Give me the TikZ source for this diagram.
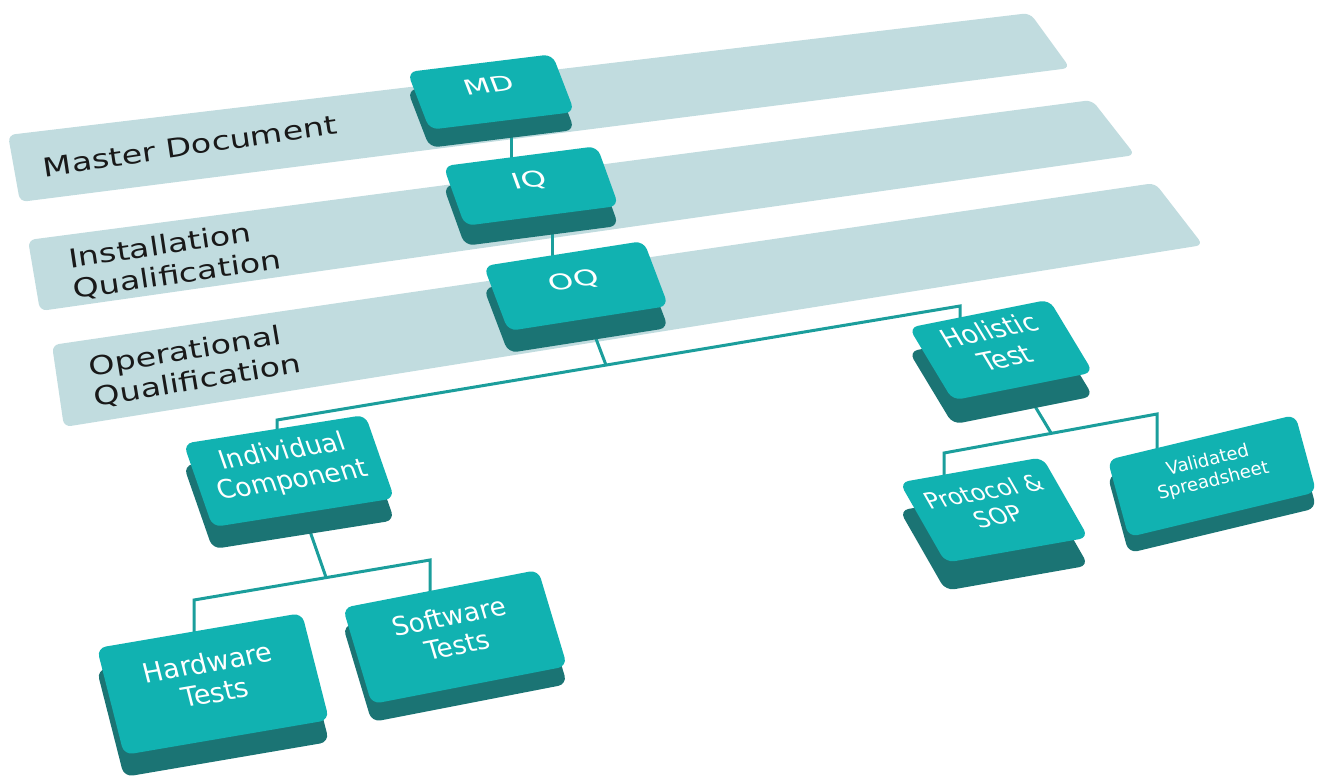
\documentclass[tikz,border=0pt]{standalone}
\usepackage{fontspec}
\setmainfont{DejaVu Sans}
\newfontfamily\bandfont[FakeStretch=1.28]{DejaVu Sans}
\newfontfamily\widefont[FakeStretch=1.45]{DejaVu Sans}
\usetikzlibrary{calc}
\usetikzlibrary{shadows}
\definecolor{cBand}{HTML}{C1DCDF}
\definecolor{cTeal}{HTML}{11B2B1}
\definecolor{cTealDark}{HTML}{1B7474}
\definecolor{cLink}{HTML}{1B9E9C}
\pgfdeclarelayer{bands}
\pgfdeclarelayer{links}
\pgfsetlayers{bands,links,main}
\tikzset{
	tbox/.style={fill=cTeal, rounded corners=9pt, transform shape, inner sep=0pt, align=center,
		text=white, text depth=14pt, general shadow={fill=cTealDark, shadow xshift=0pt, shadow yshift=-#1pt}},
	band/.style={fill=cBand, rounded corners=7pt},
	lbl/.style={transform shape, rotate=8.5, align=left, inner sep=0pt, text=black!90,
		font=\bandfont\fontsize{26}{31}\selectfont},
	link/.style={cLink, line width=3pt}
}
\begin{document}
\begin{tikzpicture}[x=1pt, y=-1pt]
		\useasboundingbox (0,0) rectangle (1325,782);
		\begin{pgfonlayer}{bands}
		\fill[band] (8,135) -- (1030,13) -- (1070,68) -- (20,202) -- cycle;
		\fill[band] (28,240) -- (1092,100) -- (1135,155) -- (40,311) -- cycle;
		\fill[band] (52,345) -- (1155,183) -- (1203,245) -- (64,427) -- cycle;
		\end{pgfonlayer}
		\node[lbl] (mdtxt) at (190,146) {Master Document};
		\node[lbl] (iqtxt) at (175,260) {Installation\\Qualification};
		\node[lbl, rotate=1] (oqtxt) at (195,366) {Operational\\Qualification};
		% levels
		\node[tbox=18, minimum width=146pt, minimum height=60pt, rotate=7, xslant=-0.25, font=\widefont\fontsize{21}{24}\selectfont] (md) at (491,92) {MD};
		\node[tbox=20, minimum width=155pt, minimum height=62pt, rotate=7.4, xslant=-0.22, font=\widefont\fontsize{22}{24}\selectfont] (iq) at (531,186) {IQ};
		\node[tbox=22, minimum width=162pt, minimum height=68pt, rotate=8.9, xslant=-0.21, font=\widefont\fontsize{22}{24}\selectfont] (oq) at (576,286) {OQ};
		\node[tbox=24, minimum width=143pt, minimum height=80pt, rotate=11.3, xslant=-0.36, font=\fontsize{26}{30}\selectfont] (ho) at (1001,350) {Holistic\\Test};
		\node[tbox=22, minimum width=184pt, minimum height=87pt, rotate=9, xslant=-0.18, font=\fontsize{26}{30}\selectfont] (ic) at (289,471) {Individual\\Component};
		\node[tbox=22, minimum width=208pt, minimum height=110pt, rotate=9.7, xslant=-0.08, font=\fontsize{27}{31}\selectfont] (hw) at (213,684) {Hardware\\Tests};
		\node[tbox=18, minimum width=199pt, minimum height=100pt, rotate=11, xslant=-0.1, font=\fontsize{26}{30}\selectfont] (sw) at (455,637) {Software\\Tests};
		\node[tbox=28, minimum width=145pt, minimum height=87pt, rotate=10, xslant=-0.36, font=\fontsize{23}{27}\selectfont] (pr) at (994,510) {Protocol \&\\SOP};
		\node[tbox=16, minimum width=193pt, minimum height=80pt, rotate=13.5, xslant=-0.03, font=\fontsize{18}{21}\selectfont] (va) at (1212,476) {Validated\\Spreadsheet};
		% connectors
		\begin{pgfonlayer}{links}
		\coordinate (mdiq) at ($(md.south)!0.5!(iq.north)$);
		\coordinate (iqoq) at ($(iq.south)!0.5!(oq.north)$);
		\draw[link] (mdiq |- md.center) -- (mdiq |- iq.center);
		\draw[link] (iqoq |- iq.center) -- (iqoq |- oq.center);
		\coordinate (oqL) at (277,420);
		\coordinate (oqR) at (960,306);
		\draw[link] (oqL |- ic.center) -- (oqL) -- (oqR) -- (oqR |- ho.center);
		\draw[link] (oq.center) -- (intersection of oq.center--oq.south and oqL--oqR);
		\coordinate (icL) at (194,600);
		\coordinate (icR) at (430,560);
		\draw[link] (icL |- hw.center) -- (icL) -- (icR) -- (icR |- sw.center);
		\draw[link] (ic.center) -- (intersection of ic.center--ic.south and icL--icR);
		\coordinate (hoL) at (944,453);
		\coordinate (hoR) at (1157,414);
		\draw[link] (hoL |- pr.center) -- (hoL) -- (hoR) -- (hoR |- va.center);
		\draw[link] (ho.center) -- (intersection of ho.center--ho.south and hoL--hoR);
		\end{pgfonlayer}
\end{tikzpicture}
\end{document}
